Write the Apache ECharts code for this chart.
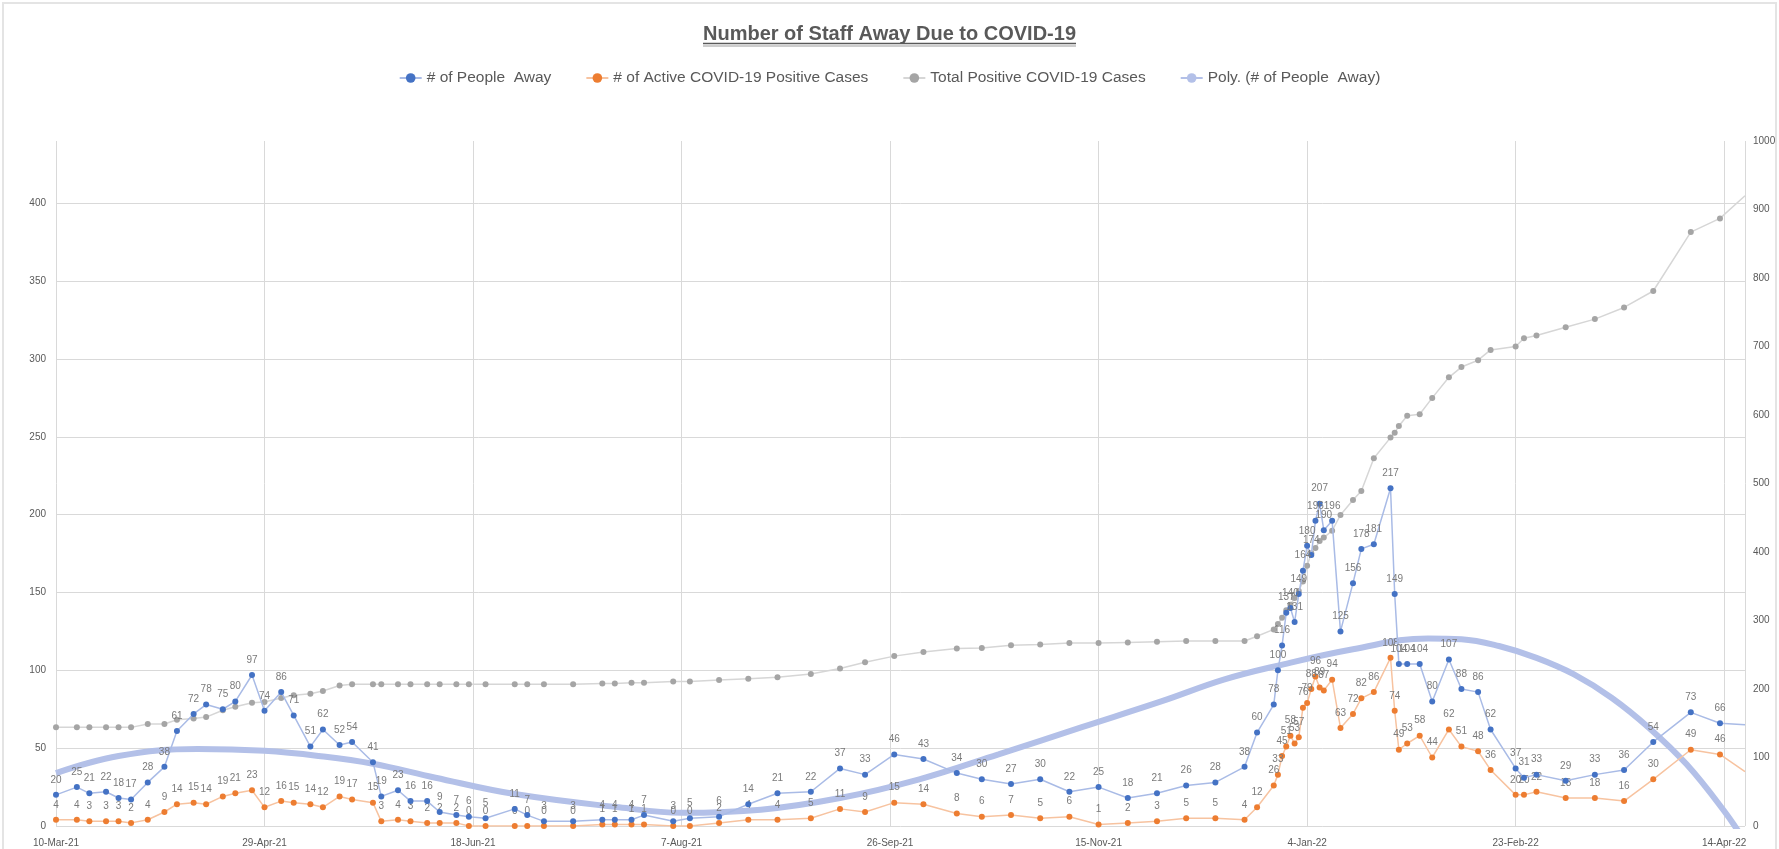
<!DOCTYPE html>
<html>
<head>
<meta charset="utf-8">
<script src="https://cdn.jsdelivr.net/npm/echarts@6/dist/echarts.min.js"></script>
<style>
html,body{margin:0;padding:0;background:#fff;}
#c{width:1779px;height:849px;}
</style>
</head>
<body>
<div id="c"></div>
<script>
const TITLE = 'Number of Staff Away Due to COVID-19';
const seriesNames = ['# of People  Away', '# of Active COVID-19 Positive Cases', 'Total Positive COVID-19 Cases', 'Poly. (# of People  Away)'];

const dates = [
'2021-03-10','2021-03-15','2021-03-18','2021-03-22','2021-03-25','2021-03-28','2021-04-01','2021-04-05','2021-04-08','2021-04-12',
'2021-04-15','2021-04-19','2021-04-22','2021-04-26','2021-04-29','2021-05-03','2021-05-06','2021-05-10','2021-05-13','2021-05-17',
'2021-05-20','2021-05-25','2021-05-27','2021-05-31','2021-06-03','2021-06-07','2021-06-10','2021-06-14','2021-06-17','2021-06-21',
'2021-06-28','2021-07-01','2021-07-05','2021-07-12','2021-07-19','2021-07-22','2021-07-26','2021-07-29','2021-08-05','2021-08-09',
'2021-08-16','2021-08-23','2021-08-30','2021-09-07','2021-09-14','2021-09-20','2021-09-27','2021-10-04','2021-10-12','2021-10-18',
'2021-10-25','2021-11-01','2021-11-08','2021-11-15','2021-11-22','2021-11-29','2021-12-06','2021-12-13','2021-12-20','2021-12-23',
'2021-12-27','2021-12-28','2021-12-29','2021-12-30','2021-12-31','2022-01-01','2022-01-02','2022-01-03','2022-01-04','2022-01-05',
'2022-01-06','2022-01-07','2022-01-08','2022-01-10','2022-01-12','2022-01-15','2022-01-17','2022-01-20','2022-01-24','2022-01-25',
'2022-01-26','2022-01-28','2022-01-31','2022-02-03','2022-02-07','2022-02-10','2022-02-14','2022-02-17','2022-02-23','2022-02-25',
'2022-02-28','2022-03-07','2022-03-14','2022-03-21','2022-03-28','2022-04-06','2022-04-13','2022-04-19'
];

const peopleAway = [
20,25,21,22,18,17,28,38,61,72,
78,75,80,97,74,86,71,51,62,52,
54,41,19,23,16,16,9,7,6,5,
11,7,3,3,4,4,4,7,3,5,
6,14,21,22,37,33,46,43,34,30,
27,30,22,25,18,21,26,28,38,60,
78,100,116,137,140,131,149,164,180,174,
196,207,190,196,125,156,178,181,217,149,
104,104,104,80,107,88,86,62,37,31,
33,29,33,36,54,73,66,65
];

const activeCases = [
4,4,3,3,3,2,4,9,14,15,
14,19,21,23,12,16,15,14,12,19,
17,15,3,4,3,2,2,2,0,0,
0,0,0,0,1,1,1,1,0,0,
2,4,4,5,11,9,15,14,8,6,
7,5,6,1,2,3,5,5,4,12,
26,33,45,51,58,53,57,76,79,88,
96,89,87,94,63,72,82,86,108,74,
49,53,58,44,62,51,48,36,20,20,
22,18,18,16,30,49,46,35
];

const totalCases = [
144,144,144,144,144,144,149,149,155,157,
159,169,174,180,181,187,191,193,197,205,
207,207,207,207,207,207,207,207,207,207,
207,207,207,207,208,208,209,209,211,211,
213,215,217,222,230,239,248,254,259,260,
264,265,267,267,268,269,270,270,270,277,
287,295,304,315,323,333,343,357,380,398,
406,416,421,431,454,476,489,537,567,574,
584,599,601,625,655,670,680,695,700,712,
716,728,740,757,781,867,887,920
];

const trendDates = [
'2021-03-10','2021-03-25','2021-04-13','2021-04-29','2021-05-12','2021-05-25','2021-06-09','2021-06-28','2021-07-23','2021-08-07',
'2021-08-26','2021-09-14','2021-10-03','2021-10-22','2021-11-11','2021-11-30','2021-12-15','2021-12-28','2022-01-15','2022-02-02',
'2022-02-10','2022-02-19','2022-02-28','2022-03-09','2022-03-18','2022-03-27','2022-04-05','2022-04-14','2022-04-19'
];
const trendValues = [
34,45,49.5,48.3,45,40,31,20.5,12,8.5,
10.5,18,30,46,63.5,80,94,103,113.5,120.5,
120,115.6,108,97.4,82.4,63,39.6,9.6,-10
];

const xTickLabels = ['10-Mar-21','29-Apr-21','18-Jun-21','7-Aug-21','26-Sep-21','15-Nov-21','4-Jan-22','23-Feb-22','14-Apr-22'];
const leftTicks = [0,50,100,150,200,250,300,350,400];
const rightTicks = [0,100,200,300,400,500,600,700,800,900,1000];

const START = Date.UTC(2021,2,10);
const DAY = 864e5;
function toDay(s){ const p = s.split('-'); return (Date.UTC(+p[0], +p[1]-1, +p[2]) - START)/DAY; }
const X_MAX = toDay(dates[dates.length-1]);

function pts(vals, hideLast){
  const n = vals.length;
  return vals.map((v,i)=>{
    const item = [toDay(dates[i]), v];
    if (hideLast && i === n-1) return {value:item, symbol:'none', label:{show:false}};
    return item;
  });
}

const FONT = '"Liberation Sans", Arial, sans-serif';
const chart = echarts.init(document.getElementById('c'));

const cx = 1779/2;
const mctx = document.createElement('canvas').getContext('2d');
mctx.font = 'bold 20px "Liberation Sans"';
const tw = mctx.measureText(TITLE).width;

const option = {
  backgroundColor:'#ffffff',
  animation:false,
  textStyle:{fontFamily:FONT},
  title:{
    text:TITLE, left:'center', top:19,
    textStyle:{fontSize:20, fontWeight:'bold', color:'#595959', fontFamily:FONT}
  },
  graphic:[
    {type:'line', shape:{x1:cx-tw/2, y1:43.5, x2:cx+tw/2, y2:43.5}, style:{stroke:'#595959', lineWidth:1.6}, silent:true},
    {type:'line', shape:{x1:cx-tw/2, y1:46, x2:cx+tw/2, y2:46}, style:{stroke:'#bdbdbd', lineWidth:1.6}, silent:true},
    {type:'rect', shape:{x:3, y:3, width:1773, height:860}, style:{fill:'none', stroke:'#e4e4e4', lineWidth:2}, silent:true}
  ],
  legend:{
    top:65, left:'center', itemGap:34, itemWidth:22, itemHeight:12,
    textStyle:{fontSize:15.5, color:'#595959', fontFamily:FONT},
    data:seriesNames
  },
  grid:{left:56, right:34, top:141, bottom:23, containLabel:false},
  xAxis:{
    type:'value', min:0, max:X_MAX, interval:50,
    axisLine:{show:false}, axisTick:{show:false},
    splitLine:{show:true, lineStyle:{color:'#d9d9d9', width:1}},
    axisLabel:{
      showMaxLabel:false, fontSize:10, color:'#595959', margin:12,
      formatter:(v)=>{ const k = Math.round(v/50); return (v%50===0 && k < xTickLabels.length) ? xTickLabels[k] : ''; }
    }
  },
  yAxis:[
    {
      type:'value', min:0, max:440, interval:50, position:'left',
      axisLine:{show:false}, axisTick:{show:false},
      splitLine:{show:true, showMaxLine:false, lineStyle:{color:'#d9d9d9', width:1}},
      axisLabel:{showMaxLabel:false, fontSize:10, color:'#595959', margin:10,
        formatter:(v)=> leftTicks.indexOf(v) >= 0 ? String(v) : ''}
    },
    {
      type:'value', min:0, max:1000, interval:100, position:'right',
      axisLine:{show:false}, axisTick:{show:false}, splitLine:{show:false},
      axisLabel:{fontSize:10, color:'#595959', margin:8,
        formatter:(v)=> rightTicks.indexOf(v) >= 0 ? String(v) : ''}
    }
  ],
  series:[
    {
      name:seriesNames[3], type:'line', yAxisIndex:0, z:1,
      data:trendDates.map((d,i)=>[toDay(d), trendValues[i]]),
      smooth:0.4, showSymbol:false, symbol:'none',
      lineStyle:{color:'#b3c0e8', width:6},
      itemStyle:{color:'#b3c0e8'}
    },
    {
      name:seriesNames[2], type:'line', yAxisIndex:1, z:2,
      data:pts(totalCases, true),
      symbol:'circle', symbolSize:6,
      lineStyle:{color:'#d6d6d6', width:1.5},
      itemStyle:{color:'#a5a5a5'}
    },
    {
      name:seriesNames[0], type:'line', yAxisIndex:0, z:4,
      data:pts(peopleAway, true),
      symbol:'circle', symbolSize:6,
      lineStyle:{color:'#a9bbe6', width:1.5},
      itemStyle:{color:'#4472c4'},
      label:{show:true, position:'top', distance:7, fontSize:10, color:'#7a7a7a', fontFamily:FONT,
        formatter:(p)=>String(p.value[1])}
    },
    {
      name:seriesNames[1], type:'line', yAxisIndex:0, z:3,
      data:pts(activeCases, true),
      symbol:'circle', symbolSize:6,
      lineStyle:{color:'#f7c3a0', width:1.5},
      itemStyle:{color:'#ed7d31'},
      label:{show:true, position:'top', distance:7, fontSize:10, color:'#7a7a7a', fontFamily:FONT,
        formatter:(p)=>String(p.value[1])}
    }
  ]
};
chart.setOption(option);
</script>
</body>
</html>
